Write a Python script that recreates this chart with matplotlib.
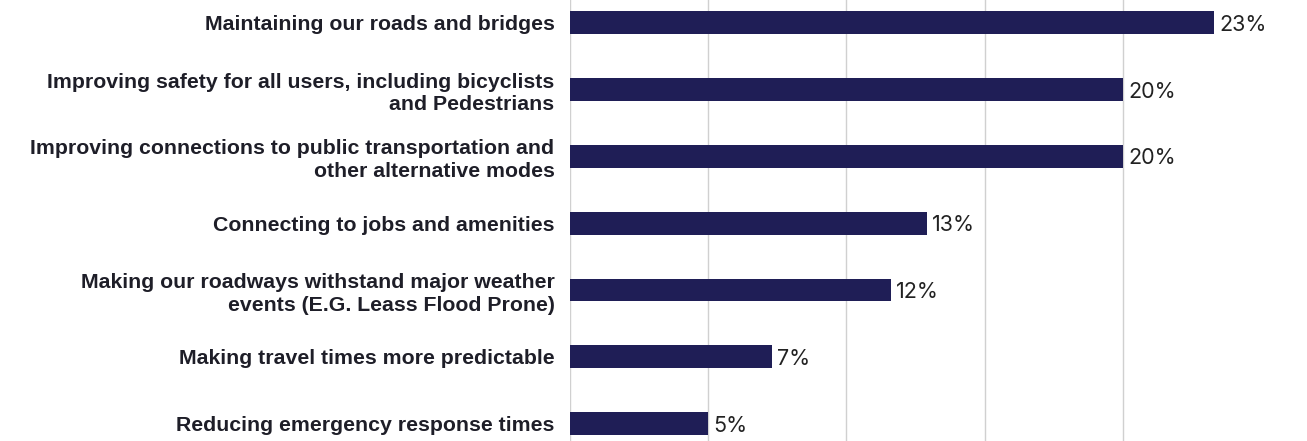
"""Priorities bar chart."""

import matplotlib

matplotlib.use("Agg")
import matplotlib.pyplot as plt

categories = [
    "Maintaining our roads and bridges",
    "Improving safety for all users, including bicyclists\nand Pedestrians",
    "Improving connections to public transportation and\nother alternative modes",
    "Connecting to jobs and amenities",
    "Making our roadways withstand major weather\nevents (E.G. Leass Flood Prone)",
    "Making travel times more predictable",
    "Reducing emergency response times",
]
shares = [23.3, 20.0, 20.0, 12.9, 11.6, 7.3, 5.0]
value_labels = ["23%", "20%", "20%", "13%", "12%", "7%", "5%"]
grid_ticks = [0, 5, 10, 15, 20]

bar_color = "#1f1e56"
text_color = "#1e1e28"

fig = plt.figure(figsize=(13.07, 4.41), dpi=100)
ax = fig.add_axes([0.436, 0.0, 0.529, 1.0])

positions = list(range(len(categories)))
ax.barh(positions, shares, height=0.34, color=bar_color, zorder=2)

for pos, value, label in zip(positions, shares, value_labels):
    ax.text(
        value + 0.2,
        pos + 0.03,
        label,
        va="center",
        ha="left",
        fontsize=15.5,
        family="Inter",
        color="#222222",
    )

ax.set_xlim(0, 25)
ax.set_ylim(6.26, -0.34)
ax.set_xticks(grid_ticks)
ax.set_xticklabels([])
ax.set_yticks(positions)
ax.set_yticklabels(
    categories,
    fontsize=15.3,
    fontweight="bold",
    family="Liberation Sans",
    color=text_color,
    ha="right",
    linespacing=1.25,
)
ax.tick_params(axis="both", length=0)
ax.tick_params(axis="y", pad=11)
ax.grid(True, axis="x", color="#d0d0d0", linewidth=1.0, zorder=0)  # noqa: FBT003
for spine in ax.spines.values():
    spine.set_visible(False)

fig.savefig("out.png", dpi=100)
plt.close(fig)
